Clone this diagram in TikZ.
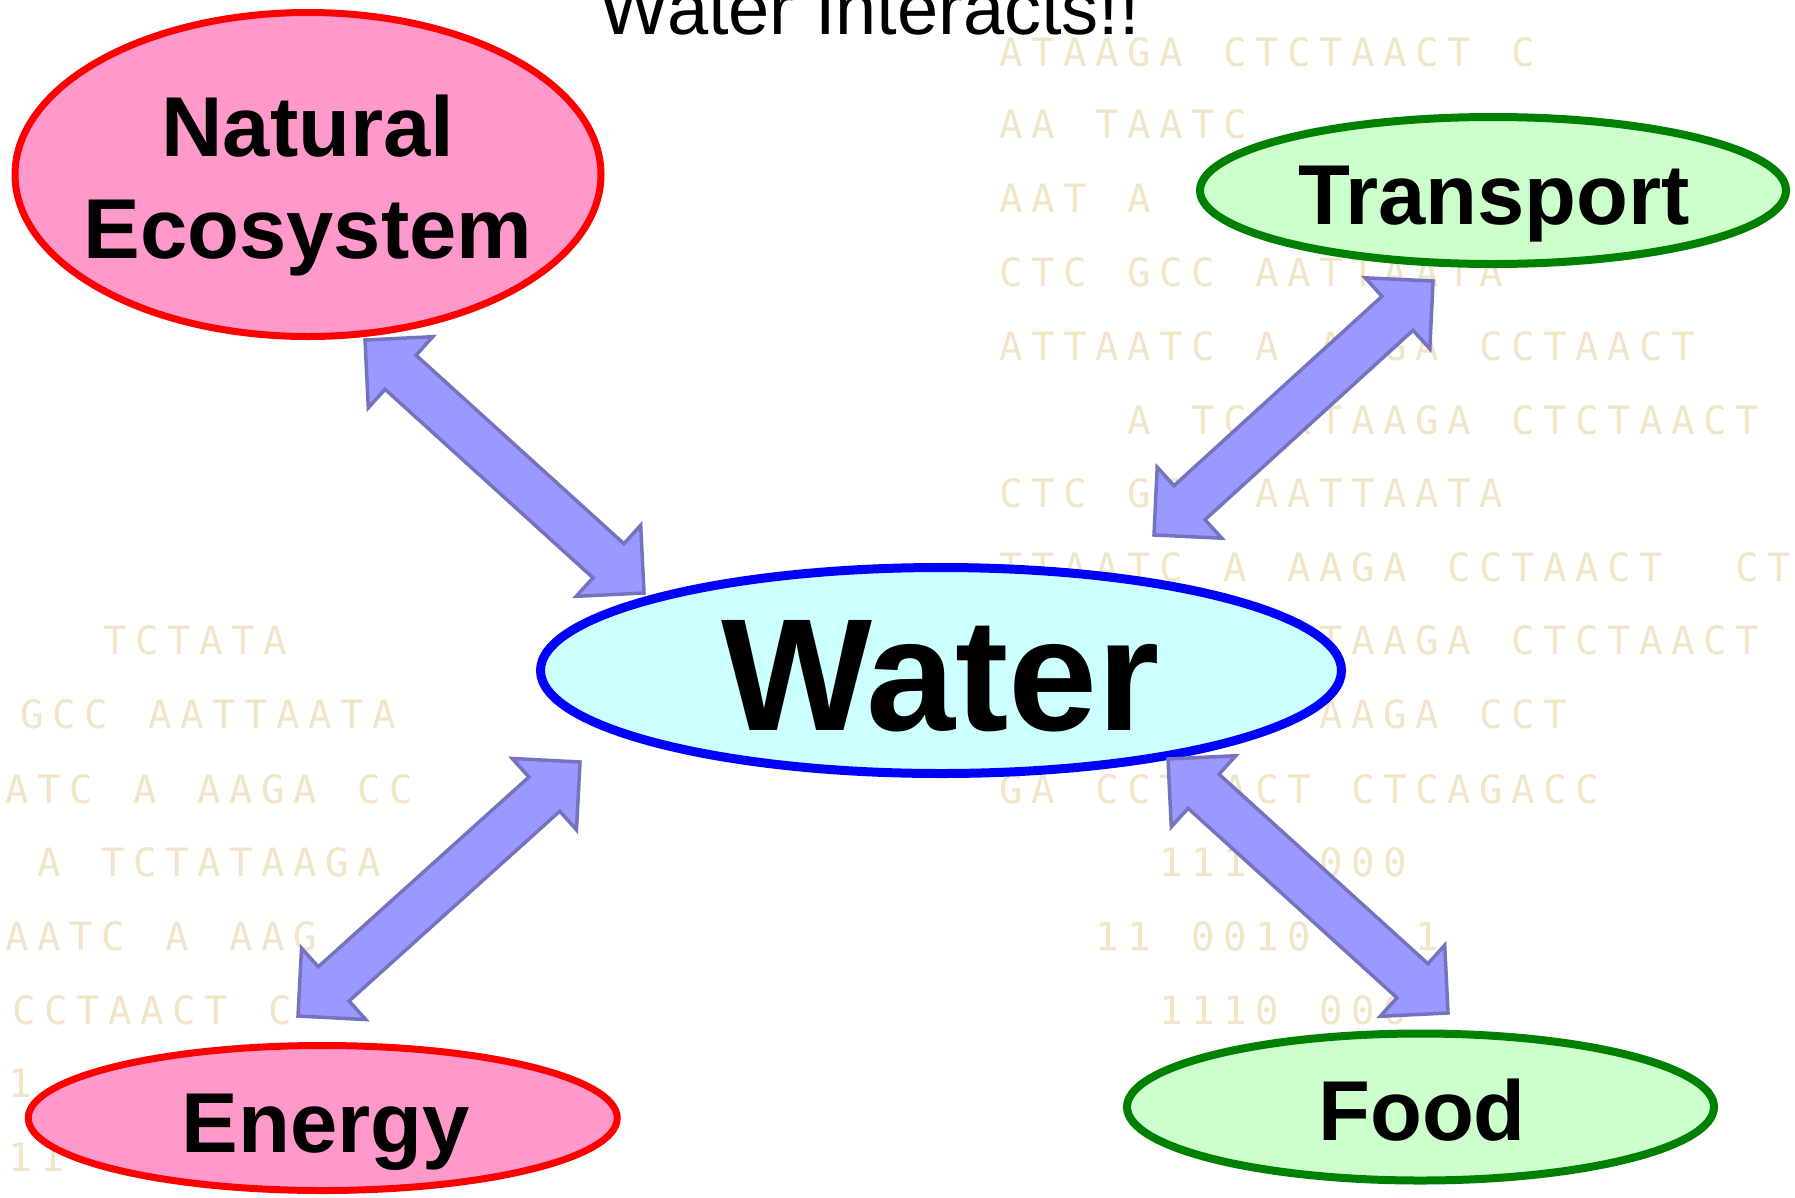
\documentclass[tikz,border=0pt]{standalone}
\usepackage{fontspec}
\setmainfont{Liberation Sans}
\newfontfamily\dnafont{DejaVu Sans Mono}
\usetikzlibrary{shapes.geometric,calc}

\definecolor{dnacol}{RGB}{241,228,200}
\definecolor{pinkfill}{HTML}{FF99CC}
\definecolor{greenfill}{HTML}{CCFFCC}
\definecolor{cyanfill}{HTML}{CCFFFF}
\definecolor{greenline}{HTML}{008000}
\definecolor{arrowfill}{HTML}{9999FF}
\definecolor{arrowline}{RGB}{115,115,190}

\makeatletter
\def\dnaseq#1{\dna@loop#1\relax}
\def\dna@loop#1{\ifx#1\relax\else\makebox[32pt][l]{\ifx#1.\else#1\fi}\expandafter\dna@loop\fi}
\makeatother

\newcommand{\dblarrow}[3]{%
  \coordinate (#1-a) at ($(#2)!48pt!(#3)$);
  \coordinate (#1-b) at ($(#3)!48pt!(#2)$);
  \draw[bigarrow] (#2) -- ($(#1-a)!48pt!90:(#3)$) -- ($(#1-a)!23pt!90:(#3)$)
    -- ($(#1-b)!23pt!-90:(#2)$) -- ($(#1-b)!48pt!-90:(#2)$) -- (#3)
    -- ($(#1-b)!48pt!90:(#2)$) -- ($(#1-b)!23pt!90:(#2)$)
    -- ($(#1-a)!23pt!-90:(#3)$) -- ($(#1-a)!48pt!-90:(#3)$) -- cycle;}

\tikzset{
  dna/.style={font=\dnafont\fontsize{39}{39}\selectfont, text=dnacol, anchor=base west, inner sep=0pt},
  bubble/.style={ellipse, inner sep=0pt, outer sep=0pt},
  redbubble/.style={bubble, draw=red, fill=pinkfill, line width=7pt},
  greenbubble/.style={bubble, draw=greenline, fill=greenfill, line width=8pt},
  bluebubble/.style={bubble, draw=blue, fill=cyanfill, line width=9pt},
  lbl/.style={font=\bfseries\fontsize{85}{102}\selectfont, inner sep=0pt, anchor=base},
  biglbl/.style={font=\bfseries\fontsize{160}{190}\selectfont, inner sep=0pt, anchor=base},
  titlelbl/.style={font=\fontsize{74}{80}\selectfont, inner sep=0pt, anchor=base},
  bigarrow/.style={draw=arrowline, fill=arrowfill, line width=3.5pt, line join=miter}
}

\begin{document}
\begin{tikzpicture}[x=1pt,y=-1pt]
\useasboundingbox (0,0) rectangle (1795,1197);
\fill[white] (0,0) rectangle (1795,1197);

% faint background sequence text (right block)
\node[dna] (r1)  at (999,66)   {\dnaseq{ATAAGA.CTCTAACT.C}};
\node[dna] (r2)  at (999,138)  {\dnaseq{AA.TAATC}};
\node[dna] (r3)  at (999,212)  {\dnaseq{AAT.A}};
\node[dna] (r4)  at (999,286)  {\dnaseq{CTC.GCC.AATTAATA}};
\node[dna] (r5)  at (999,360)  {\dnaseq{ATTAATC.A.AAGA.CCTAACT}};
\node[dna] (r6)  at (999,434)  {\dnaseq{....A.TCTATAAGA.CTCTAACT}};
\node[dna] (r7)  at (999,507)  {\dnaseq{CTC.GCC.AATTAATA}};
\node[dna] (r8)  at (999,581)  {\dnaseq{TTAATC.A.AAGA.CCTAACT..CTCT}};
\node[dna] (r9)  at (999,654)  {\dnaseq{....A.TCTATAAGA.CTCTAACT}};
\node[dna] (r10) at (999,728)  {\dnaseq{ATTAATC.A.AAGA.CCT}};
\node[dna] (r11) at (999,803)  {\dnaseq{GA.CCTAACT.CTCAGACC}};
\node[dna] (r12) at (999,876)  {\dnaseq{.....1110.000}};
\node[dna] (r13) at (999,950)  {\dnaseq{...11.0010...1}};
\node[dna] (r14) at (999,1024) {\dnaseq{.....1110.000}};
% left block
\node[dna] (l1) at (103,654)  {\dnaseq{TCTATA}};
\node[dna] (l2) at (20,728)   {\dnaseq{GCC.AATTAATA}};
\node[dna] (l3) at (5,803)    {\dnaseq{ATC.A.AAGA.CC}};
\node[dna] (l4) at (37,876)   {\dnaseq{A.TCTATAAGA}};
\node[dna] (l5) at (5,950)    {\dnaseq{AATC.A.AAG}};
\node[dna] (l6) at (12,1024)  {\dnaseq{CCTAACT.C}};
\node[dna] (l7) at (8,1097)   {\dnaseq{1}};
\node[dna] (l8) at (8,1171)   {\dnaseq{11}};

% ellipses
\node[redbubble, minimum width=586pt, minimum height=324pt] (nat) at (308,174.5) {};
\node[greenbubble, minimum width=586pt, minimum height=147pt] (tra) at (1493,190.5) {};
\node[bluebubble, minimum width=801pt, minimum height=206pt] (wat) at (941,670.5) {};
\node[redbubble, minimum width=589pt, minimum height=145pt] (ene) at (322.75,1118) {};
\node[greenbubble, minimum width=587pt, minimum height=147pt] (foo) at (1420.5,1107) {};

% labels
\node[lbl, anchor=north, align=center] (natT) at (308,95) {Natural\\Ecosystem};
\node[lbl] (traT) at (1494,224) {Transport};
\node[biglbl] (watT) at (940.5,730) {Water};
\node[lbl] (eneT) at (326,1152) {Energy};
\node[lbl] (fooT) at (1422,1140) {Food};

% arrow end points
\coordinate (natS) at (365,340);
\coordinate (watNW) at (644,593);
\coordinate (traS) at (1433,281);
\coordinate (watNE) at (1154,535);
\coordinate (watSW) at (580,762);
\coordinate (eneN) at (298,1016);
\coordinate (watSE) at (1168,759);
\coordinate (fooN) at (1448,1013);

\dblarrow{a1}{natS}{watNW}
\dblarrow{a2}{traS}{watNE}
\dblarrow{a3}{watSW}{eneN}
\dblarrow{a4}{watSE}{fooN}

% title
\node[titlelbl] (title) at (870,34) {Water Interacts!!};
\end{tikzpicture}
\end{document}
